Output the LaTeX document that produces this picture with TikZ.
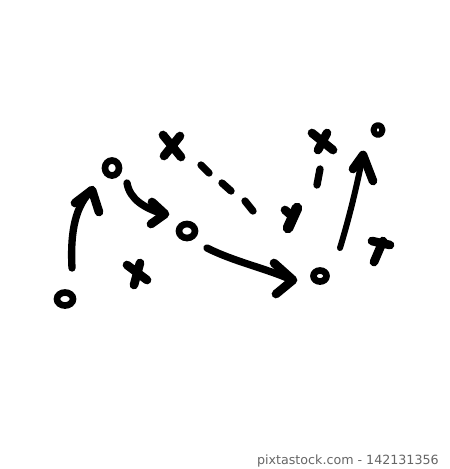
\documentclass[tikz,border=0pt]{standalone}
\usepackage{fontspec}
\setmainfont{DejaVu Sans}
\begin{document}
\begin{tikzpicture}[x=0.75pt,y=-0.75pt,
  chalk/.style={line width=5.5pt,line cap=round,line join=round,black},
  thin chalk/.style={line width=4.5pt,line cap=round,line join=round,black},
  head/.style={line width=6.5pt,line cap=round,line join=round,black},
  ring/.style={line width=5pt,black},
  xmark/.style={line width=6.5pt,line cap=round,black}]
\fill[white] (0,0) rectangle (450,469);
\useasboundingbox (0,0) rectangle (450,469);
% circles
\draw[ring] (65,299) ellipse (8 and 6.5);
\draw[ring] (112,168) ellipse (7 and 7.5);
\draw[ring] (187,231) ellipse (8 and 7);
\draw[ring] (320,276) ellipse (6.5 and 5.5);
\draw[thin chalk] (378,130) ellipse (4.5 and 5);
% crosses
\draw[xmark] (163,135) -- (181,157) (180,136) -- (164,156);
\draw[xmark] (127,265) -- (147,280) (140,263) -- (134,285);
\draw[xmark] (312,133) -- (333,150) (327,133) -- (318,150);
\draw[line width=8pt,line cap=round] (297,208) -- (288,228);
\draw[xmark] (285,210) -- (292,216);
\draw[xmark] (372,241) -- (390,245) (383,241) -- (374,262);
% arrow left
\draw[chalk] (72,268) .. controls (70,230) and (76,205) .. (92,190);
\draw[head] (75,203) -- (92,190) -- (99,212);
% arrow to middle circle
\draw[chalk] (127,183) .. controls (130,200) and (145,208) .. (163,214);
\draw[head] (152,202) -- (165,214) -- (151,224);
% dashed pass
\draw[chalk] (201,165) -- (209,173);
\draw[chalk] (222,183) -- (231,191);
\draw[chalk] (245,201) -- (253,211);
% long arrow
\draw[chalk] (207,248) .. controls (235,262) and (265,268) .. (292,280);
\draw[head] (274,263) -- (293,280) -- (276,294);
% short dash under right cross
\draw[chalk] (320,169) -- (317,185);
% right arrow
\draw[thin chalk] (340,248) .. controls (350,215) and (357,185) .. (363,155);
\draw[head] (353,169) -- (363,155) -- (373,181);
% watermark text
\node[anchor=east,text=black!60,font=\fontsize{9.5}{11}\selectfont,inner sep=0pt] (wm) at (439,461) {pixtastock.com - 142131356};
\end{tikzpicture}
\end{document}
